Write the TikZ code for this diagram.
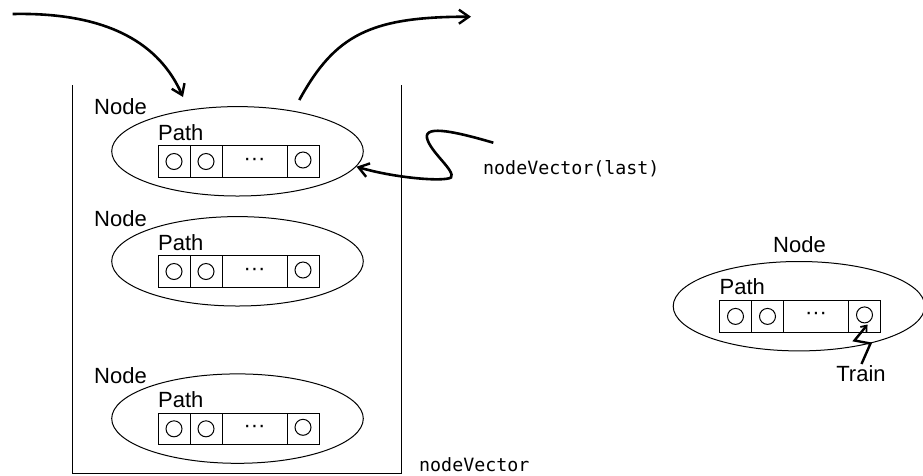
\documentclass[tikz,border=0pt]{standalone}
\usepackage{fontspec}
\setmainfont{Liberation Sans}
\newfontfamily\monof{DejaVu Sans Mono}
\usetikzlibrary{shapes.geometric,arrows.meta}
\tikzset{
  thin line/.style={line width=1pt},
  bigarrow/.style={line width=2.6pt,-{Straight Barb[length=10pt,width=14pt,line width=2.4pt]}},
  nodeellipse/.style={ellipse,draw,line width=1pt,minimum width=251.6pt,minimum height=89.4pt,inner sep=0pt},
  cell/.style={rectangle,draw,line width=1pt,minimum height=31.6pt,inner sep=0pt,anchor=west},
  ball/.style={circle,draw,line width=1pt,minimum size=16pt,inner sep=0pt},
  sanslabel/.style={font=\fontsize{22}{24}\selectfont,inner sep=0pt},
  monolabel/.style={font=\monof\fontsize{18.3}{20}\selectfont,inner sep=0pt},
  nodepic/.pic={
    \node[nodeellipse] (-e) at (0,0) {};
    \node[sanslabel,anchor=base west] (-p) at (-79.5,-11.3) {Path};
    \node[cell,minimum width=32pt] (-c1) at (-80,10.2) {};
    \node[cell,minimum width=32pt] (-c2) at (-48,10.2) {};
    \node[cell,minimum width=65pt] (-c3) at (-16,10.2) {};
    \node[cell,minimum width=32pt] (-c4) at (49,10.2) {};
    \node[ball] (-b1) at (-c1.center) {};
    \node[ball] (-b2) at (-c2.center) {};
    \node[font=\fontsize{22}{22}\selectfont,inner sep=0pt] (-d) at (-c3.center) {\char"00B7\char"00B7\char"00B7};
    \node[ball] (-b4) at ([yshift=1.5pt]-c4.center) {};
  }
}
\begin{document}
\begin{tikzpicture}[x=1pt,y=-1pt]
\useasboundingbox (0,0) rectangle (923,475);

% container (nodeVector)
\draw[thin line] (72.7,85) -- (72.7,473.5) -- (401,473.5) -- (401,85);

% nodes inside the vector
\pic (n1) at (237.5,151.3) {nodepic};
\pic (n2) at (237.5,261.3) {nodepic};
\pic (n3) at (237.5,418.6) {nodepic};
\node[sanslabel,anchor=base west] (l1) at (94,114.3) {Node};
\node[sanslabel,anchor=base west] (l2) at (94,226.7) {Node};
\node[sanslabel,anchor=base west] (l3) at (94,383.5) {Node};

% lone node
\pic (n4) at (799,306.2) {nodepic};
\node[sanslabel,anchor=base] (l4) at (799.5,252.3) {Node};
\node[sanslabel,anchor=base] (train) at (861,381) {Train};

% text labels
\node[monolabel,anchor=base west] (nvl) at (483,174) {nodeVector(last)};
\node[monolabel,anchor=base west] (nv) at (419,471.7) {nodeVector};

% arrows
\coordinate (inStart) at (12.7,14);
\coordinate (inEnd) at (183,97);
\coordinate (outStart) at (299.3,100);
\coordinate (outEnd) at (471,16.7);
\coordinate (lastStart) at (493.3,142.7);
\coordinate (lastEnd) at (356.5,166.7);
\coordinate (trainStart) at (861.5,364);
\coordinate (trainEnd) at (867.5,324.5);

\draw[bigarrow] (inStart) .. controls (110,12) and (160,45) .. (inEnd);
\draw[bigarrow] (outStart) .. controls (335,35) and (370,16.7) .. (outEnd);
\draw[bigarrow] (lastStart) .. controls (460,133) and (424,124) .. (427,138)
   .. controls (430,152) and (456,171) .. (451,177.5)
   .. controls (444,182) and (395,178) .. (lastEnd);
\draw[line width=2.4pt,-{Straight Barb[length=5pt,width=8pt,line width=1.8pt]}]
   (trainStart) -- (870.5,343.5) -- (854.5,340.5) -- (trainEnd);
\end{tikzpicture}
\end{document}
